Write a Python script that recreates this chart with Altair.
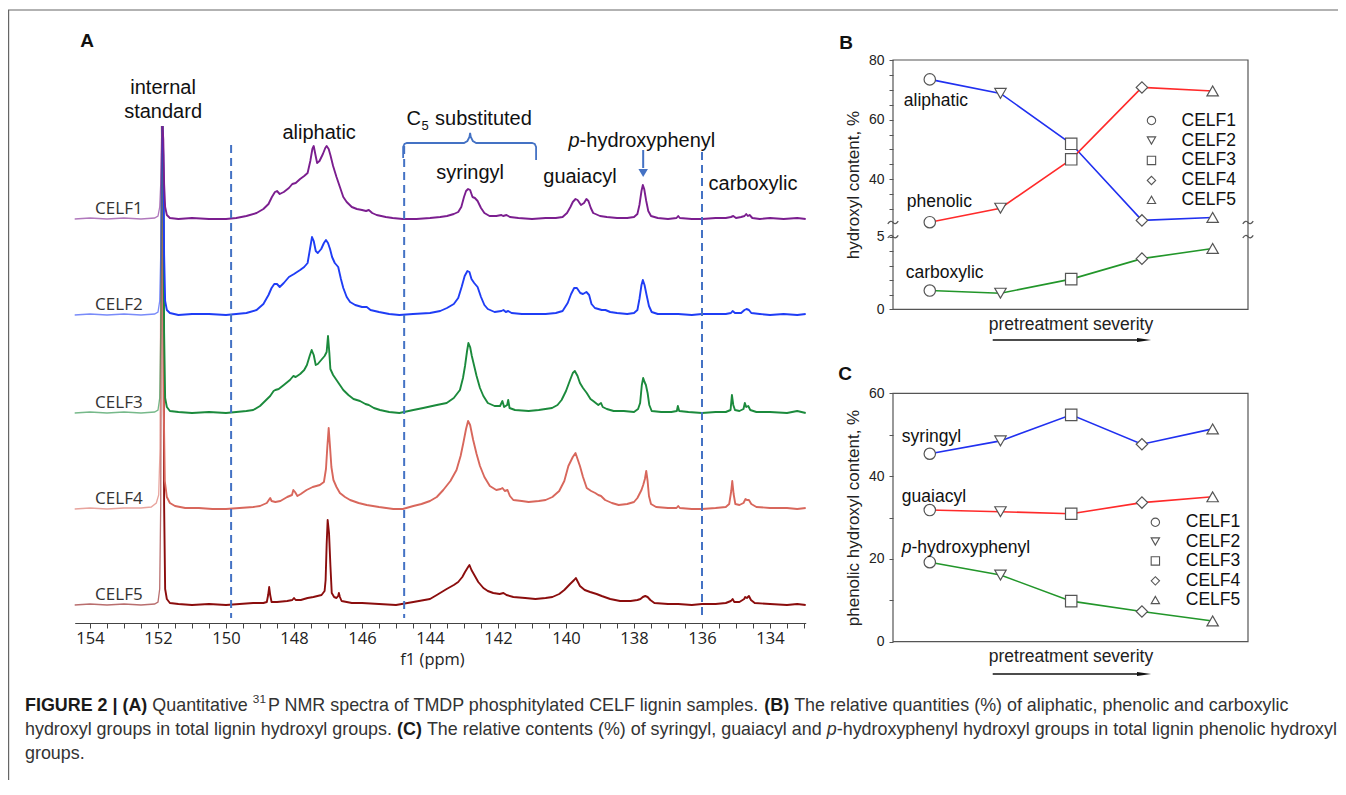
import altair as alt
import pandas as pd

# ======================= DATA =======================
samples = ["CELF1", "CELF2", "CELF3", "CELF4", "CELF5"]
severity = [1, 2, 3, 4, 5]

# Panel B: hydroxyl content, %
aliphatic = [73.5, 68.8, 51.9, 26.2, 27.2]
phenolic = [25.6, 30.3, 46.7, 70.8, 69.6]
carboxylic = [1.29, 1.11, 2.08, 3.49, 4.19]

# Panel C: phenolic hydroxyl content, %
syringyl = [45.4, 48.5, 54.8, 47.7, 51.4]
guaiacyl = [31.8, 31.4, 30.9, 33.6, 35.0]
p_hydroxyphenyl = [19.2, 16.1, 9.8, 7.3, 5.0]

# Panel A: 31P NMR spectra, (ppm, intensity above the trace's own baseline)
celf1_spectrum = [
    (154.45, 0), (154.0, 1), (153.5, 0), (153.0, 1), (152.5, 0), (152.1, 1), (152.0, 3), (151.95, 12),
    (151.92, 35), (151.895, 80), (151.87, 93), (151.845, 80), (151.82, 35), (151.79, 12), (151.74, 4), (151.65, 1), (151.4, 0), (151.0, 1),
    (150.5, 0), (150.0, 0), (149.7, 1), (149.4, 3), (149.1, 6), (148.9, 10), (148.75, 15), (148.65, 22),
    (148.56, 27), (148.5, 28), (148.42, 25), (148.3, 27), (148.15, 31), (148.05, 35), (147.95, 36), (147.82, 40),
    (147.7, 43), (147.6, 46), (147.52, 58), (147.46, 70), (147.42, 73), (147.38, 66), (147.32, 56), (147.25, 58),
    (147.15, 65), (147.08, 71), (147.04, 73), (146.98, 70), (146.93, 64), (146.85, 53), (146.75, 42), (146.65, 32),
    (146.55, 22), (146.45, 17), (146.3, 12), (146.15, 10), (146.0, 9), (145.88, 8), (145.8, 9), (145.7, 6),
    (145.57, 4), (145.3, 2), (145.1, 1), (144.8, 0), (144.4, 0), (144.0, 1), (143.7, 2), (143.5, 3),
    (143.3, 5), (143.17, 7), (143.08, 12), (143.0, 22), (142.94, 28), (142.88, 30), (142.82, 29), (142.75, 22),
    (142.68, 21), (142.6, 18), (142.5, 11), (142.4, 6), (142.25, 3), (142.05, 3), (141.9, 4), (141.85, 3),
    (141.75, 4), (141.65, 2), (141.4, 1), (141.0, 0), (140.6, 1), (140.3, 1), (140.1, 2), (139.97, 6),
    (139.87, 12), (139.8, 17), (139.72, 20), (139.66, 19), (139.56, 14), (139.47, 16), (139.4, 20), (139.34, 18),
    (139.27, 11), (139.2, 6), (139.0, 3), (138.8, 2), (138.5, 1), (138.2, 1), (138.0, 2), (137.9, 5),
    (137.84, 14), (137.78, 28), (137.74, 34), (137.7, 30), (137.64, 18), (137.58, 8), (137.5, 3), (137.3, 1),
    (137.0, 0), (136.75, 1), (136.7, 3), (136.65, 1), (136.3, 0), (136.0, 0), (135.6, 1), (135.3, 1),
    (135.15, 2), (135.08, 3), (135.0, 1), (134.85, 2), (134.75, 3), (134.7, 5), (134.65, 3), (134.6, 4),
    (134.52, 1), (134.3, 0), (134.0, 1), (133.6, 0), (133.2, 1), (132.95, 0),
]
celf2_spectrum = [
    (154.45, 0), (154.0, 1), (153.5, 0), (153.0, 1), (152.5, 0), (152.1, 1), (152.0, 3), (151.95, 14),
    (151.92, 60), (151.895, 160), (151.87, 189), (151.845, 160), (151.82, 60), (151.79, 14), (151.74, 5), (151.65, 2), (151.4, 0), (151.0, 1),
    (150.5, 1), (150.0, 0), (149.7, 1), (149.4, 2), (149.1, 5), (148.9, 11), (148.75, 20), (148.66, 27),
    (148.58, 31), (148.5, 31), (148.42, 28), (148.3, 32), (148.15, 38), (148.0, 41), (147.82, 45), (147.7, 48),
    (147.6, 52), (147.53, 66), (147.47, 78), (147.42, 74), (147.36, 64), (147.3, 62), (147.2, 66), (147.12, 72),
    (147.06, 75), (147.0, 72), (146.94, 66), (146.88, 58), (146.8, 52), (146.7, 48), (146.62, 36), (146.55, 27),
    (146.45, 18), (146.35, 13), (146.2, 10), (146.0, 8), (145.86, 8), (145.75, 5), (145.5, 3), (145.2, 1),
    (144.9, 0), (144.5, 1), (144.0, 2), (143.7, 4), (143.5, 7), (143.3, 11), (143.17, 17), (143.07, 28),
    (142.98, 39), (142.9, 44), (142.84, 43), (142.78, 36), (142.7, 32), (142.6, 28), (142.5, 18), (142.4, 10),
    (142.3, 6), (142.1, 3), (141.9, 4), (141.84, 5), (141.77, 3), (141.7, 4), (141.6, 2), (141.3, 1),
    (141.0, 1), (140.6, 1), (140.3, 2), (140.1, 4), (139.95, 12), (139.85, 21), (139.76, 27), (139.68, 27),
    (139.58, 22), (139.5, 21), (139.4, 23), (139.32, 20), (139.25, 11), (139.15, 7), (138.95, 5), (138.84, 5),
    (138.7, 3), (138.5, 2), (138.2, 1), (138.0, 2), (137.9, 5), (137.84, 16), (137.78, 30), (137.74, 35),
    (137.69, 30), (137.63, 20), (137.56, 9), (137.48, 3), (137.3, 1), (137.0, 1), (136.7, 1), (136.3, 0),
    (136.0, 1), (135.6, 1), (135.3, 1), (135.15, 2), (135.1, 4), (135.03, 2), (134.85, 2), (134.75, 5),
    (134.69, 6), (134.62, 5), (134.55, 2), (134.3, 1), (134.0, 0), (133.6, 1), (133.2, 0), (132.95, 1),
]
celf3_spectrum = [
    (154.45, 0), (154.0, 1), (153.5, 0), (153.0, 1), (152.5, 0), (152.1, 1), (152.0, 3), (151.95, 15),
    (151.92, 80), (151.895, 240), (151.87, 287), (151.845, 240), (151.82, 80), (151.79, 15), (151.74, 6), (151.65, 2), (151.4, 1), (151.0, 0),
    (150.5, 1), (150.0, 0), (149.7, 1), (149.4, 2), (149.2, 3), (149.0, 7), (148.85, 12), (148.7, 17),
    (148.6, 22), (148.55, 23), (148.45, 24), (148.3, 28), (148.12, 33), (148.02, 37), (147.95, 36), (147.82, 39),
    (147.7, 43), (147.62, 48), (147.54, 57), (147.48, 63), (147.42, 58), (147.36, 48), (147.3, 49), (147.2, 53),
    (147.1, 57), (147.04, 61), (147.0, 77), (146.96, 60), (146.93, 44), (146.85, 38), (146.75, 33), (146.65, 28),
    (146.55, 23), (146.4, 18), (146.25, 14), (146.06, 12), (145.9, 9), (145.8, 8), (145.65, 5), (145.47, 3),
    (145.2, 1), (144.9, 0), (144.49, 3), (144.2, 5), (143.8, 8), (143.51, 10), (143.3, 15), (143.12, 23),
    (143.03, 35), (142.97, 47), (142.91, 62), (142.87, 70), (142.82, 66), (142.77, 57), (142.7, 47), (142.63, 37),
    (142.53, 25), (142.43, 17), (142.3, 10), (142.1, 7), (141.94, 7), (141.87, 12), (141.82, 6), (141.73, 8),
    (141.7, 13), (141.66, 5), (141.5, 3), (141.1, 2), (140.8, 3), (140.41, 5), (140.25, 8), (140.13, 13),
    (140.0, 22), (139.88, 33), (139.8, 40), (139.74, 42), (139.66, 37), (139.59, 30), (139.5, 25), (139.39, 20),
    (139.28, 14), (139.2, 12), (139.05, 8), (138.97, 10), (138.92, 6), (138.8, 4), (138.6, 2), (138.3, 2),
    (138.0, 1), (137.88, 4), (137.82, 10), (137.77, 28), (137.73, 35), (137.69, 31), (137.65, 28), (137.6, 20),
    (137.55, 8), (137.48, 2), (137.2, 1), (136.9, 1), (136.74, 2), (136.71, 7), (136.67, 2), (136.4, 1),
    (136.0, 0), (135.6, 1), (135.3, 1), (135.16, 3), (135.12, 18), (135.08, 8), (135.03, 3), (134.9, 2),
    (134.78, 4), (134.74, 10), (134.7, 6), (134.64, 7), (134.58, 3), (134.4, 1), (134.0, 1), (133.5, 0),
    (133.2, 2), (132.95, 0),
]
celf4_spectrum = [
    (154.45, 0), (154.0, 1), (153.5, 0), (153.0, 1), (152.5, 1), (152.2, 2), (152.05, 6), (151.98, 14),
    (151.94, 60), (151.91, 320), (151.89, 383), (151.865, 320), (151.83, 100), (151.8, 28), (151.74, 12), (151.65, 6), (151.5, 3), (151.2, 1),
    (150.8, 1), (150.4, 0), (150.0, 0), (149.6, 1), (149.2, 2), (149.0, 3), (148.8, 6), (148.74, 9),
    (148.7, 11), (148.66, 8), (148.55, 7), (148.4, 8), (148.2, 12), (148.06, 14), (148.02, 19), (147.97, 17),
    (147.9, 13), (147.8, 15), (147.63, 19), (147.45, 22), (147.24, 24), (147.12, 27), (147.06, 40), (147.02, 62),
    (146.98, 81), (146.94, 62), (146.9, 42), (146.84, 29), (146.75, 22), (146.65, 16), (146.5, 12), (146.35, 9),
    (146.1, 6), (145.86, 4), (145.5, 2), (145.08, 0), (144.8, 0), (144.49, 3), (144.25, 5), (144.0, 8),
    (143.8, 12), (143.61, 19), (143.4, 28), (143.22, 39), (143.1, 53), (143.02, 66), (142.94, 80), (142.88, 88),
    (142.82, 84), (142.73, 69), (142.63, 55), (142.53, 43), (142.4, 32), (142.24, 23), (142.05, 19), (141.92, 20),
    (141.87, 21), (141.8, 18), (141.72, 19), (141.65, 13), (141.55, 9), (141.3, 8), (141.1, 7), (140.8, 8),
    (140.6, 9), (140.4, 12), (140.2, 18), (140.05, 28), (139.93, 43), (139.8, 52), (139.72, 56), (139.66, 50),
    (139.59, 43), (139.5, 32), (139.39, 21), (139.26, 18), (139.14, 16), (139.05, 14), (138.97, 13), (138.85, 9),
    (138.65, 6), (138.45, 4), (138.2, 5), (138.0, 7), (137.9, 11), (137.84, 15), (137.78, 19), (137.73, 24),
    (137.68, 30), (137.64, 38), (137.6, 28), (137.56, 13), (137.5, 5), (137.35, 2), (137.0, 1), (136.75, 1),
    (136.7, 3), (136.65, 1), (136.3, 0), (136.0, 0), (135.6, 1), (135.3, 2), (135.2, 5), (135.14, 18),
    (135.11, 28), (135.07, 15), (135.02, 5), (134.9, 4), (134.78, 6), (134.72, 10), (134.68, 9), (134.62, 9),
    (134.55, 5), (134.4, 2), (134.0, 1), (133.5, 1), (133.2, 0), (132.95, 1),
]
celf5_spectrum = [
    (154.45, 0), (154.0, 1), (153.5, 0), (153.0, 1), (152.5, 0), (152.1, 1), (152.0, 3), (151.95, 16),
    (151.92, 100), (151.895, 400), (151.87, 479), (151.845, 400), (151.82, 100), (151.79, 16), (151.74, 6), (151.65, 2), (151.4, 1), (151.0, 0),
    (150.5, 1), (150.0, 0), (149.6, 1), (149.2, 2), (148.9, 2), (148.8, 3), (148.76, 10), (148.73, 18),
    (148.7, 10), (148.66, 3), (148.5, 3), (148.2, 4), (148.05, 5), (148.0, 7), (147.95, 5), (147.8, 5),
    (147.6, 7), (147.43, 8), (147.19, 10), (147.1, 14), (147.07, 25), (147.04, 60), (147.01, 85), (146.97, 72),
    (146.93, 40), (146.89, 12), (146.82, 8), (146.75, 7), (146.7, 9), (146.68, 12), (146.65, 8), (146.6, 4),
    (146.3, 2), (146.0, 2), (145.5, 1), (145.0, 0), (144.49, 3), (144.0, 6), (143.8, 10), (143.51, 16),
    (143.3, 20), (143.17, 23), (143.05, 28), (142.97, 33), (142.88, 38), (142.84, 40), (142.78, 35), (142.68, 29),
    (142.58, 23), (142.43, 17), (142.3, 14), (142.14, 12), (141.95, 11), (141.84, 12), (141.75, 10), (141.55, 8),
    (141.2, 7), (140.9, 6), (140.6, 7), (140.4, 8), (140.2, 11), (140.05, 15), (139.88, 21), (139.76, 25),
    (139.71, 27), (139.65, 23), (139.59, 19), (139.45, 15), (139.29, 13), (139.1, 11), (138.95, 9), (138.7, 6),
    (138.41, 4), (138.1, 4), (137.9, 5), (137.81, 6), (137.74, 8), (137.67, 9), (137.6, 8), (137.52, 5),
    (137.4, 2), (137.0, 1), (136.7, 1), (136.3, 0), (136.0, 1), (135.6, 1), (135.3, 2), (135.15, 4),
    (135.1, 6), (135.05, 3), (134.9, 3), (134.76, 6), (134.73, 8), (134.68, 7), (134.62, 9), (134.56, 5),
    (134.45, 2), (134.0, 1), (133.5, 0), (133.2, 1), (132.95, 0),
]
spectra = [celf1_spectrum, celf2_spectrum, celf3_spectrum, celf4_spectrum, celf5_spectrum]

# region boundaries (ppm) marked with dashed lines
region_bounds = [149.85, 144.76, 136.0]

# axis ticks
ppm_ticks = [v / 2 for v in range(266, 309)]
b_ticks = [0, 1, 2, 3, 4, 5, 30, 35, 40, 45, 50, 55, 60, 65, 70, 75, 80]
c_ticks = [0, 10, 20, 30, 40, 50, 60]

# ======================= STYLE / LAYOUT =======================
W, H = 1330, 772
def px(v):  # screenshot pixel -> chart pixel (page margin 8)
    return v - 8

SANS = "Liberation Sans"
OPEN = "Open Sans"
trace_colors = ["#7b1e8f", "#1f3df5", "#1b8a3c", "#d8675c", "#8b0d0d"]
trace_offsets = [386, 290, 192, 96, 0]
dash_blue = "#4472c4"
line_b = {"aliphatic": "#2030f0", "phenolic": "#ff2a2a", "carboxylic": "#22962a"}
line_c = {"syringyl": "#2030f0", "guaiacyl": "#ff2a2a", "p": "#22962a"}
shapes = ["circle", "triangle-down", "square", "diamond", "triangle-up"]
SQUIGGLE = "M-1,0.25C-0.6,-0.35 -0.3,-0.35 0,0C0.3,0.35 0.6,0.35 1,-0.25"

layers = []

# ---------- Panel A ----------
xA_scale = alt.Scale(domain=[132.95, 154.45], range=[px(805.7), px(74.7)], nice=False, zero=False)
yA_scale = alt.Scale(domain=[0, 597], range=[597, 0], nice=False, zero=False)

axisA = alt.Axis(
    orient="bottom", offset=px(623) - H, values=ppm_ticks,
    labelExpr="datum.value % 2 == 0 ? format(datum.value, 'd') : ''",
    tickSize=5, tickColor="#444", domainColor="#444", domainWidth=1.2, tickWidth=1,
    labelFont=OPEN, labelFontSize=16.5, labelColor="#222", labelPadding=2,
    labelFlush=False, labelOverlap=False, grid=False,
    title="f1 (ppm)", titleFont=OPEN, titleFontSize=16.5, titleFontWeight="normal",
    titleColor="#222", titleX=px(432), titleY=36, titleBaseline="middle",
)

def xa(axis=None):
    return alt.X("ppm:Q", scale=xA_scale, axis=axis, title=None)

def ya(field="yv"):
    return alt.Y(f"{field}:Q", scale=yA_scale, axis=None, title=None)

first = True
for i in [4, 3, 2, 1, 0]:
    pts = spectra[i]
    peak = max(pts, key=lambda p: p[1])[0]
    left = pd.DataFrame([{"ppm": p, "yv": v + trace_offsets[i]} for p, v in pts if p >= peak])
    main = pd.DataFrame([{"ppm": p, "yv": v + trace_offsets[i]} for p, v in pts if p <= peak])
    layers.append(alt.Chart(left).mark_line(color=trace_colors[i], strokeWidth=1.3, opacity=0.6)
                  .encode(x=xa(axisA if first else None), y=ya()))
    first = False
    layers.append(alt.Chart(main).mark_line(color=trace_colors[i], strokeWidth=1.9, strokeJoin="round")
                  .encode(x=xa(), y=ya()))

dash_df = pd.DataFrame({"ppm": region_bounds, "yv": [460, 459, 453], "yv2": [-13, -13, -13]})
layers.append(alt.Chart(dash_df).mark_rule(color=dash_blue, strokeWidth=2, strokeDash=[8, 5])
              .encode(x=xa(), y=ya(), y2="yv2:Q"))

bracket = pd.DataFrame({
    "ppm": [144.79, 144.79, 144.75, 144.68, 143.0, 142.9, 142.84, 142.82, 142.8, 142.74, 142.64, 141.0, 140.92, 140.88, 140.88],
    "yv": [447, 458, 461, 462, 462, 464, 468, 472, 468, 464, 462, 462, 461, 458, 445],
})
bracket["k"] = range(len(bracket))
layers.append(alt.Chart(bracket).mark_line(color=dash_blue, strokeWidth=1.8)
              .encode(x=xa(), y=ya(), order="k:Q"))

arrow_df = pd.DataFrame({"ppm": [137.73], "yv": [455], "yv2": [437]})
layers.append(alt.Chart(arrow_df).mark_rule(color=dash_blue, strokeWidth=2)
              .encode(x=xa(), y=ya(), y2="yv2:Q"))
head_df = pd.DataFrame({"ppm": [137.73], "yv": [432]})
layers.append(alt.Chart(head_df).mark_point(shape="triangle-down", filled=True, color=dash_blue, size=90, opacity=1)
              .encode(x=xa(), y=ya()))

celf_lab = pd.DataFrame({"ppm": [153.85] * 5, "yv": [o + 10 for o in trace_offsets], "t": samples})
layers.append(alt.Chart(celf_lab).mark_text(align="left", baseline="middle", font=OPEN, fontSize=17, color="#333")
              .encode(x=xa(), y=ya(), text="t:N"))

ann_center = pd.DataFrame({
    "t": ["internal", "standard", "aliphatic", "syringyl", "guaiacyl", "carboxylic"],
    "ppm": [151.85, 151.85, 147.26, 142.82, 139.59, 134.5],
    "yv": [517, 493, 472, 432, 428, 421],
})
layers.append(alt.Chart(ann_center).mark_text(align="center", baseline="middle", font=SANS, fontSize=20, color="#111")
              .encode(x=xa(), y=ya(), text="t:N"))
ann_left = pd.DataFrame({"t": ["C", "substituted", "-hydroxyphenyl"], "ppm": [144.69, 143.85, 139.6], "yv": [486, 486, 464]})
layers.append(alt.Chart(ann_left).mark_text(align="left", baseline="middle", font=SANS, fontSize=20, color="#111")
              .encode(x=xa(), y=ya(), text="t:N"))
ann_sub = pd.DataFrame({"t": ["5"], "ppm": [144.25], "yv": [479]})
layers.append(alt.Chart(ann_sub).mark_text(align="left", baseline="middle", font=SANS, fontSize=13, color="#111")
              .encode(x=xa(), y=ya(), text="t:N"))
ann_it = pd.DataFrame({"t": ["p"], "ppm": [139.6], "yv": [464]})
layers.append(alt.Chart(ann_it).mark_text(align="right", baseline="middle", font=SANS, fontSize=20, fontStyle="italic", color="#111")
              .encode(x=xa(), y=ya(), text="t:N"))

# ---------- Panels B and C ----------
x_bc_scale = alt.Scale(domain=[0.48, 5.5], range=[px(893), px(1248)], nice=False, zero=False)
yB_scale = alt.Scale(domain=[0, 5, 25.5, 80], range=[px(309.3), px(236.7), px(222.5), px(60)], nice=False, zero=False)
yC_scale = alt.Scale(domain=[0, 60], range=[px(641.7), px(393.3)], nice=False, zero=False)

def xaxis_bc(offset):
    return alt.Axis(orient="bottom", offset=offset, domain=False, ticks=False, labels=False, grid=False,
                    title="pretreatment severity", titleFont=SANS, titleFontSize=17.5, titleFontWeight="normal",
                    titleColor="#222", titlePadding=6)

def yaxis_bc(values, expr, title):
    return alt.Axis(orient="left", offset=-px(893), values=values, labelExpr=expr, domain=False,
                    tickSize=4, tickColor="#555", labelFont=SANS, labelFontSize=14, labelColor="#222",
                    labelPadding=5, grid=False, title=title, titleFont=SANS, titleFontSize=17,
                    titleFontWeight="normal", titleColor="#222", titlePadding=6)

def build_panel(yscale, groups, colors, ytop, xaxis_off, yaxis, labels, legend, arrow_y):
    def xb(axis=None, field="sev"):
        return alt.X(f"{field}:Q", scale=x_bc_scale, axis=axis, title=None)
    def yb(axis=None, field="val"):
        return alt.Y(f"{field}:Q", scale=yscale, axis=axis, title=None)
    shape_enc = alt.Shape("sample:N", scale=alt.Scale(domain=samples, range=shapes), legend=None)
    out = []
    frame = pd.DataFrame({"sev": [0.48], "sev2": [5.5], "val": [0], "val2": [ytop]})
    out.append(alt.Chart(frame).mark_rect(fillOpacity=0, stroke="#555", strokeWidth=1.2)
               .encode(x=xb(xaxis_bc(xaxis_off)), x2="sev2:Q", y=yb(yaxis), y2="val2:Q"))
    for name, vals in groups:
        df = pd.DataFrame({"sev": severity, "val": vals})
        out.append(alt.Chart(df).mark_line(color=colors[name], strokeWidth=1.6).encode(x=xb(), y=yb()))
    pts = pd.concat([pd.DataFrame({"sev": severity, "val": vals, "sample": samples}) for _, vals in groups])
    out.append(alt.Chart(pts).mark_point(filled=True, fill="white", stroke="#555", strokeWidth=1.2, size=130, opacity=1)
               .encode(x=xb(), y=yb(), shape=shape_enc))
    # legend (symbol column + label column)
    sym_x, lab_x, rows = legend
    leg = pd.DataFrame({"sev": [sym_x] * 5, "sev_l": [lab_x] * 5, "val": rows, "sample": samples})
    out.append(alt.Chart(leg).mark_point(filled=True, fill="white", stroke="#555", strokeWidth=1.1, size=70, opacity=1)
               .encode(x=xb(), y=yb(), shape=shape_enc))
    out.append(alt.Chart(leg).mark_text(align="left", baseline="middle", font=SANS, fontSize=17.5, color="#111")
               .encode(x=xb(field="sev_l"), y=yb(), text="sample:N"))
    for t, s, v, style in labels:
        df = pd.DataFrame({"sev": [s], "val": [v], "t": [t]})
        out.append(alt.Chart(df).mark_text(align="left", baseline="middle", font=SANS, fontSize=17.5,
                                           fontStyle=style, color="#111")
                   .encode(x=xb(), y=yb(), text="t:N"))
    arr = pd.DataFrame({"sev": [1.89], "sev2": [4.0]})
    out.append(alt.Chart(arr).mark_rule(color="#111", strokeWidth=1.3)
               .encode(x=xb(), x2="sev2:Q", y=alt.value(arrow_y)))
    head = pd.DataFrame({"sev": [4.03]})
    out.append(alt.Chart(head).mark_point(shape="M-1,-0.28L1,0L-1,0.28Z", filled=True, color="#111", size=200, opacity=1)
               .encode(x=xb(), y=alt.value(arrow_y)))
    return out

layers += build_panel(
    yB_scale,
    [("aliphatic", aliphatic), ("phenolic", phenolic), ("carboxylic", carboxylic)],
    line_b, 80, px(309.3) - H,
    yaxis_bc(b_ticks, "indexof([0, 5, 40, 60, 80], datum.value) >= 0 ? datum.label : ''", "hydroxyl content, %"),
    [("aliphatic", 0.633, 66.4, "normal"), ("phenolic", 0.675, 32.5, "normal"), ("carboxylic", 0.661, 2.52, "normal")],
    (4.135, 4.56, [59.7, 53.0, 46.3, 39.6, 33.1]), px(340),
)
brk = pd.DataFrame({"sev": [0.48, 0.48, 5.5, 5.5], "val": [25.5, 5, 25.5, 5]})
layers.append(alt.Chart(brk).mark_point(shape=SQUIGGLE, filled=False, stroke="#555", strokeWidth=1.2, size=110, opacity=1)
              .encode(x=alt.X("sev:Q", scale=x_bc_scale, axis=None), y=alt.Y("val:Q", scale=yB_scale, axis=None)))

layers += build_panel(
    yC_scale,
    [("syringyl", syringyl), ("guaiacyl", guaiacyl), ("p", p_hydroxyphenyl)],
    line_c, 60, px(641.7) - H,
    yaxis_bc(c_ticks, "datum.value % 20 == 0 ? datum.label : ''", "phenolic hydroxyl content, %"),
    [("syringyl", 0.605, 49.5, "normal"), ("guaiacyl", 0.605, 35.0, "normal"),
     ("p", 0.605, 22.7, "italic"), ("-hydroxyphenyl", 0.742, 22.7, "normal")],
    (4.19, 4.62, [28.85, 24.2, 19.5, 14.7, 10.07]), px(674),
)

# ---------- panel letters, frame, caption ----------
letters = pd.DataFrame({"t": ["A", "B", "C"], "x": [px(87), px(846), px(845)], "y": [px(41), px(43), px(374)]})
layers.append(alt.Chart(letters).mark_text(font=SANS, fontSize=19, fontWeight="bold", color="#111",
                                           align="center", baseline="middle").encode(
    x=alt.X("x:Q", scale=None), y=alt.Y("y:Q", scale=None), text="t:N"))

layers.append(alt.Chart(pd.DataFrame({"a": [0]})).mark_rect(fillOpacity=0, stroke="#666", strokeWidth=1.2).encode(
    x=alt.value(0.6), x2=alt.value(1500), y=alt.value(px(10)), y2=alt.value(1200)))

AR = dict(zip(" !%(),-./0123456789:|", [278, 278, 889, 333, 333, 278, 333, 278, 278] + [556] * 10 + [278, 260]))
AR.update(zip("ABCDEFGHIJKLMNOPQRSTUVWXYZ",
              [667, 667, 722, 722, 667, 611, 778, 722, 278, 500, 667, 556, 833, 722, 778, 667, 778, 722, 667, 611, 722, 667, 944, 667, 667, 611]))
AR.update(zip("abcdefghijklmnopqrstuvwxyz",
              [556, 556, 500, 556, 556, 278, 556, 556, 222, 222, 500, 222, 833, 556, 556, 556, 556, 333, 500, 278, 556, 500, 722, 500, 500, 500]))
ARB = dict(AR)
ARB.update({"A": 722, "B": 722, "C": 722, "R": 722, "U": 722, "|": 280})

def tw(s, table, size):
    return sum(table.get(c, 556) for c in s) / 1000 * size

cap_lines = [
    [("FIGURE 2 | (A)", "b"), (" Quantitative ", "n"), ("31", "sup"),
     ("P NMR spectra of TMDP phosphitylated CELF lignin samples. ", "n"), ("(B)", "b"),
     (" The relative quantities (%) of aliphatic, phenolic and carboxylic", "n")],
    [("hydroxyl groups in total lignin hydroxyl groups. ", "n"), ("(C)", "b"),
     (" The relative contents (%) of syringyl, guaiacyl and ", "n"), ("p", "i"),
     ("-hydroxyphenyl hydroxyl groups in total lignin phenolic hydroxyl", "n")],
    [("groups.", "n")],
]
FS = 17.9
cap_rows = []
for li, segs in enumerate(cap_lines):
    x = px(25)
    ybase = px(710.5) + li * 24
    for text, sty in segs:
        size = FS * 0.66 if sty == "sup" else FS
        table = ARB if sty == "b" else AR
        lead = len(text) - len(text.lstrip(" "))
        cap_rows.append({"t": text.strip(" "), "sty": sty, "x": x + tw(text[:lead], table, size),
                         "y": ybase - (FS * 0.4 if sty == "sup" else 0), "size": size})
        x += tw(text, table, size) + (2 if sty == "sup" else 0)
cap_df = pd.DataFrame(cap_rows)

for sty, weight, fstyle, col in [("n", "normal", "normal", "#333"), ("sup", "normal", "normal", "#333"),
                                  ("b", "bold", "normal", "#1a1a1a"), ("i", "normal", "italic", "#333")]:
    layers.append(alt.Chart(cap_df[cap_df.sty == sty]).mark_text(
        font=SANS, fontWeight=weight, fontStyle=fstyle, color=col, align="left", baseline="alphabetic").encode(
        x=alt.X("x:Q", scale=None), y=alt.Y("y:Q", scale=None), text="t:N",
        size=alt.Size("size:Q", scale=None)))

chart = alt.layer(*layers).resolve_scale(
    x="independent", y="independent", shape="independent", size="independent"
).properties(
    width=W, height=H, padding=0, autosize=alt.AutoSizeParams(type="none"), background="white"
).configure_view(stroke=None).configure_axis(grid=False)

chart.save("out.html", embed_options={"renderer": "svg", "actions": False})
